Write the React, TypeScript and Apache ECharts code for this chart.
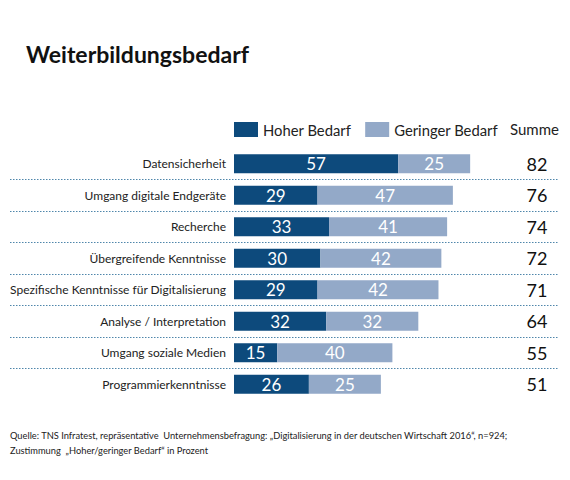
import { useEffect, useRef } from "react";
import * as echarts from "echarts";

const categories = [
  "Datensicherheit",
  "Umgang digitale Endgeräte",
  "Recherche",
  "Übergreifende Kenntnisse",
  "Spezifische Kenntnisse für Digitalisierung",
  "Analyse / Interpretation",
  "Umgang soziale Medien",
  "Programmierkenntnisse",
];
const hoher = [57, 29, 33, 30, 29, 32, 15, 26];
const geringer = [25, 47, 41, 42, 42, 32, 40, 25];
const summe = [82, 76, 74, 72, 71, 64, 55, 51];

const DARK = "#0d4a7c";
const LIGHT = "#93a9c8";
const FONT = "Lato";

export default function App() {
  const chartRef = useRef<HTMLDivElement | null>(null);

  useEffect(() => {
    if (!chartRef.current) {
      return;
    }
    const chart = echarts.init(chartRef.current, undefined, { renderer: "svg" });
    const gridTop = 148;
    const gridBottom = 80;

    chart.setOption({
      animation: false,
      backgroundColor: "#ffffff",
      textStyle: { fontFamily: FONT },
      title: {
        text: "Weiterbildungsbedarf",
        left: 21,
        top: 37,
        textStyle: { fontFamily: FONT, fontSize: 23, fontWeight: "bold", color: "#111" },
      },
      legend: {
        left: 234,
        top: 122,
        padding: 0,
        itemWidth: 24,
        itemHeight: 15,
        itemGap: 14,
        icon: "rect",
        textStyle: { fontFamily: FONT, fontSize: 14.8, color: "#222" },
        data: ["Hoher Bedarf", "Geringer Bedarf"],
      },
      graphic: [
        {
          type: "text",
          left: 510,
          top: 121,
          style: { text: "Summe", fontFamily: FONT, fontSize: 15, fill: "#222" },
        },
        {
          type: "text",
          left: 10,
          top: 428,
          style: {
            text:
              "Quelle: TNS Infratest, repräsentative  Unternehmensbefragung: „Digitalisierung in der deutschen Wirtschaft 2016“, n=924;\nZustimmung  „Hoher/geringer Bedarf“ in Prozent",
            fontFamily: FONT,
            fontSize: 9.3,
            lineHeight: 15,
            fill: "#222",
          },
        },
      ],
      grid: [
        { left: 234, right: 48, top: gridTop, bottom: gridBottom },
        { left: 10, right: 12, top: gridTop, bottom: gridBottom },
      ],
      xAxis: [
        { type: "value", min: 0, max: 100, show: false, gridIndex: 0 },
        { type: "value", min: 0, max: 1, show: false, gridIndex: 1 },
      ],
      yAxis: [
        {
          type: "category",
          gridIndex: 0,
          inverse: true,
          data: categories,
          axisLine: { show: false },
          axisTick: { show: false },
          axisLabel: { fontFamily: FONT, fontSize: 12, color: "#222", margin: 8 },
        },
        {
          type: "category",
          gridIndex: 0,
          position: "right",
          inverse: true,
          data: summe.map(String),
          axisLine: { show: false },
          axisTick: { show: false },
          axisLabel: { fontFamily: FONT, fontSize: 18, color: "#111", margin: 15, align: "center" },
        },
        {
          type: "value",
          gridIndex: 1,
          min: 0,
          max: categories.length,
          interval: 1,
          axisLine: { show: false },
          axisTick: { show: false },
          axisLabel: { show: false },
          splitLine: {
            show: true,
            showMinLine: false,
            showMaxLine: false,
            lineStyle: { color: "#4f86ab", width: 1, type: [1.5, 1.5] },
          },
        },
      ],
      series: [
        {
          name: "Hoher Bedarf",
          type: "bar",
          stack: "b",
          barWidth: 19,
          itemStyle: { color: DARK },
          label: { show: true, position: "inside", color: "#fff", fontFamily: FONT, fontSize: 17 },
          data: hoher,
        },
        {
          name: "Geringer Bedarf",
          type: "bar",
          stack: "b",
          barWidth: 19,
          itemStyle: { color: LIGHT },
          label: { show: true, position: "inside", color: "#fff", fontFamily: FONT, fontSize: 17 },
          data: geringer,
        },
      ],
    });

    return () => {
      chart.dispose();
    };
  }, []);

  return (
    <div
      ref={chartRef}
      style={{ position: "fixed", left: 0, top: 0, width: 570, height: 480 }}
    />
  );
}
